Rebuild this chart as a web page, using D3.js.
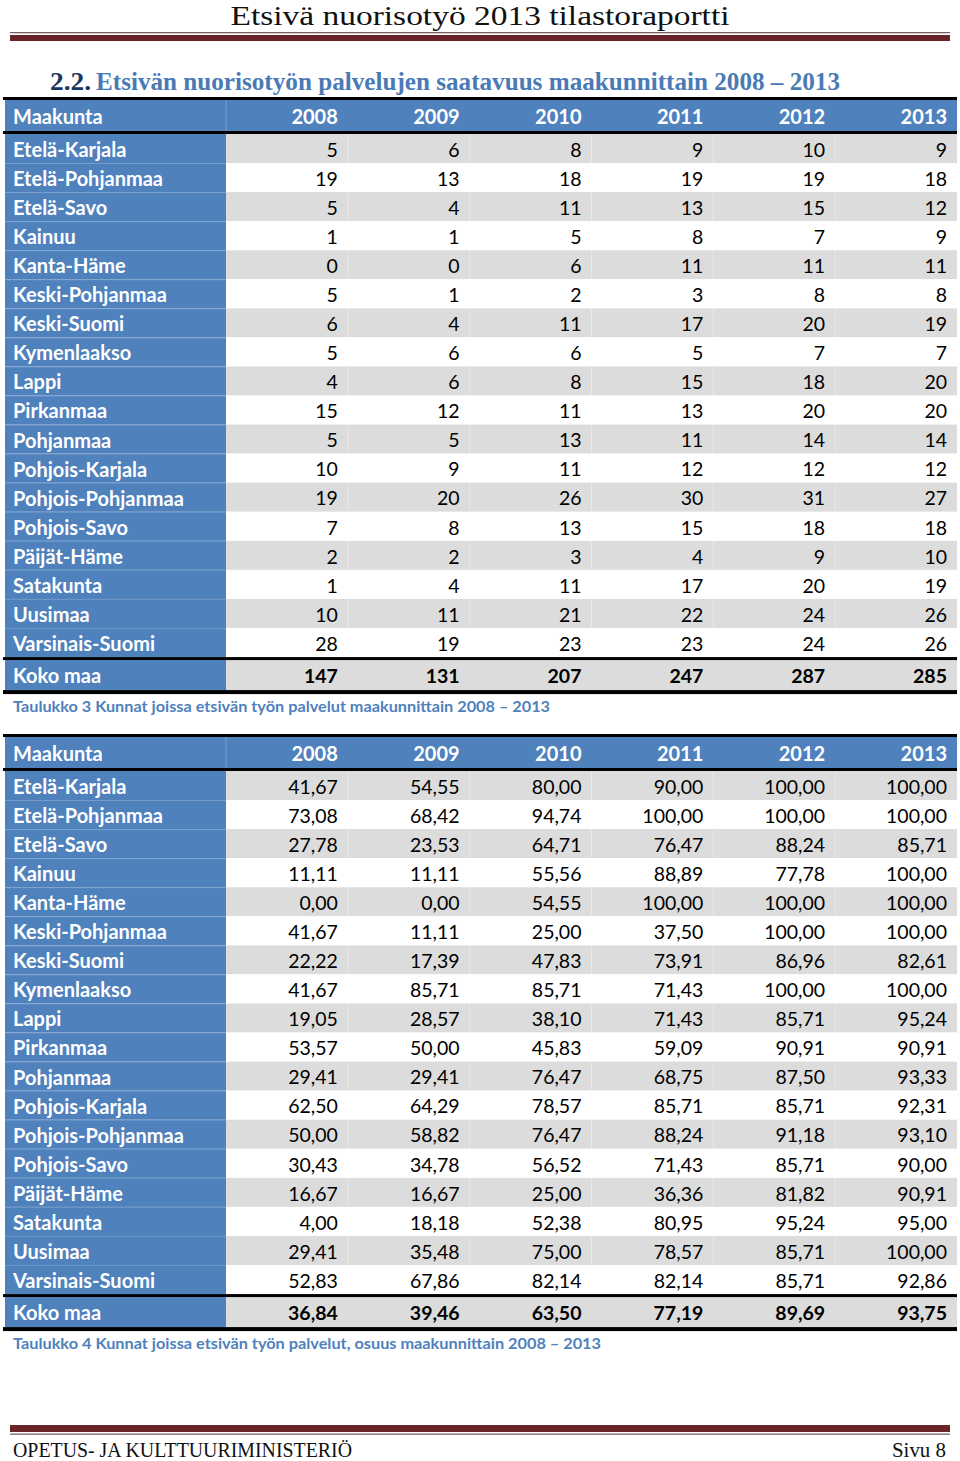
<!DOCTYPE html>
<html><head><meta charset="utf-8">
<script src="https://cdn.jsdelivr.net/npm/d3@7/dist/d3.min.js"></script>
<style>
html,body{margin:0;padding:0;background:#fff;}
svg{display:block;}
</style></head>
<body>
<script>
const pageTitle = "Etsivä nuorisotyö 2013 tilastoraportti";
const sectionNumber = "2.2.";
const sectionTitle = "Etsivän nuorisotyön palvelujen saatavuus maakunnittain 2008 – 2013";
const caption1 = "Taulukko 3 Kunnat joissa etsivän työn palvelut maakunnittain 2008 – 2013";
const caption2 = "Taulukko 4 Kunnat joissa etsivän työn palvelut, osuus maakunnittain 2008 – 2013";
const footerLeft = "OPETUS- JA KULTTUURIMINISTERIÖ";
const footerRight = "Sivu 8";
const headerLabel = "Maakunta";
const totalLabel = "Koko maa";

const years = ["2008","2009","2010","2011","2012","2013"];
const regions = ["Etelä-Karjala","Etelä-Pohjanmaa","Etelä-Savo","Kainuu","Kanta-Häme","Keski-Pohjanmaa","Keski-Suomi","Kymenlaakso","Lappi","Pirkanmaa","Pohjanmaa","Pohjois-Karjala","Pohjois-Pohjanmaa","Pohjois-Savo","Päijät-Häme","Satakunta","Uusimaa","Varsinais-Suomi"];

const counts = [
  [5,6,8,9,10,9],
  [19,13,18,19,19,18],
  [5,4,11,13,15,12],
  [1,1,5,8,7,9],
  [0,0,6,11,11,11],
  [5,1,2,3,8,8],
  [6,4,11,17,20,19],
  [5,6,6,5,7,7],
  [4,6,8,15,18,20],
  [15,12,11,13,20,20],
  [5,5,13,11,14,14],
  [10,9,11,12,12,12],
  [19,20,26,30,31,27],
  [7,8,13,15,18,18],
  [2,2,3,4,9,10],
  [1,4,11,17,20,19],
  [10,11,21,22,24,26],
  [28,19,23,23,24,26]
];
const countsTotal = [147,131,207,247,287,285];

const shares = [
  [41.67,54.55,80.00,90.00,100.00,100.00],
  [73.08,68.42,94.74,100.00,100.00,100.00],
  [27.78,23.53,64.71,76.47,88.24,85.71],
  [11.11,11.11,55.56,88.89,77.78,100.00],
  [0.00,0.00,54.55,100.00,100.00,100.00],
  [41.67,11.11,25.00,37.50,100.00,100.00],
  [22.22,17.39,47.83,73.91,86.96,82.61],
  [41.67,85.71,85.71,71.43,100.00,100.00],
  [19.05,28.57,38.10,71.43,85.71,95.24],
  [53.57,50.00,45.83,59.09,90.91,90.91],
  [29.41,29.41,76.47,68.75,87.50,93.33],
  [62.50,64.29,78.57,85.71,85.71,92.31],
  [50.00,58.82,76.47,88.24,91.18,93.10],
  [30.43,34.78,56.52,71.43,85.71,90.00],
  [16.67,16.67,25.00,36.36,81.82,90.91],
  [4.00,18.18,52.38,80.95,95.24,95.00],
  [29.41,35.48,75.00,78.57,85.71,100.00],
  [52.83,67.86,82.14,82.14,85.71,92.86]
];
const sharesTotal = [36.84,39.46,63.50,77.19,89.69,93.75];

const W = 960, H = 1461;
const svg = d3.select("body").append("svg").attr("width", W).attr("height", H);

const BLUE = "#4f81bd", GRAY = "#dcdcdc", RED = "#6a2327";
const sansFont = "Lato, 'Open Sans', sans-serif";
const serifFont = "'Liberation Serif', 'DejaVu Serif', serif";

// page header
svg.append("text").attr("x", 480).attr("y", 25).attr("text-anchor","middle")
  .attr("font-family", serifFont).attr("font-size", 28).attr("fill","#111")
  .attr("textLength", 499).attr("lengthAdjust","spacingAndGlyphs").text(pageTitle);
svg.append("rect").attr("x",10).attr("y",32).attr("width",940).attr("height",1.3).attr("fill","#7a6262");
svg.append("rect").attr("x",10).attr("y",35).attr("width",940).attr("height",6).attr("fill",RED);

// section heading
svg.append("text").attr("x", 50).attr("y", 90)
  .attr("font-family", serifFont).attr("font-weight","bold").attr("font-size", 26).attr("fill","#17365d")
  .attr("textLength", 41).attr("lengthAdjust","spacingAndGlyphs").text(sectionNumber);
svg.append("text").attr("x", 96).attr("y", 90)
  .attr("font-family", serifFont).attr("font-weight","bold").attr("font-size", 26).attr("fill","#4a7ab5")
  .attr("textLength", 744).attr("lengthAdjust","spacingAndGlyphs").text(sectionTitle);

const fmtComma = d3.formatLocale({decimal: ",", thousands: "\u00a0", grouping: [3], currency: ["", ""]}).format(".2f");

function drawTable(top, rows, totals, fmt, caption, captionLen) {
  const g = svg.append("g");
  const left = 5, right = 957, labelRight = 226;
  const headerTop = top + 3, headerBottom = top + 34;
  const bodyTop = top + 37, rowH = 29.06;
  const bodyBottom = bodyTop + rowH * regions.length;
  const totalTop = bodyBottom + 3, totalBottom = totalTop + 30;
  const DY = "0.42em";

  const x = d3.scaleBand().domain(years).range([labelRight, right]);
  const y = d3.scaleBand().domain(regions).range([bodyTop, bodyBottom]);

  // header
  g.append("rect").attr("x", left).attr("y", headerTop).attr("width", right-left).attr("height", headerBottom-headerTop).attr("fill", BLUE);
  g.append("line").attr("x1", labelRight).attr("x2", labelRight).attr("y1", headerTop).attr("y2", headerBottom)
    .attr("stroke","#fff").attr("stroke-opacity",0.25);
  g.append("text").attr("x", 13).attr("y", (headerTop+headerBottom)/2).attr("dy",DY)
    .attr("font-family", sansFont).attr("font-weight","bold").attr("font-size",20).attr("fill","#fff").text(headerLabel);
  g.selectAll("text.yr").data(years).join("text").attr("class","yr")
    .attr("x", d => x(d) + x.bandwidth() - 10).attr("y", (headerTop+headerBottom)/2).attr("dy",DY)
    .attr("text-anchor","end").attr("font-family", sansFont).attr("font-weight","bold").attr("font-size",20)
    .attr("fill","#fff").text(d => d);

  // body rows
  const rg = g.selectAll("g.row").data(regions).join("g").attr("class","row");
  rg.append("rect").attr("x", labelRight).attr("y", d => y(d)).attr("width", right-labelRight).attr("height", y.bandwidth())
    .attr("fill", (d,i) => i % 2 === 0 ? GRAY : "#fff");
  rg.append("rect").attr("x", left).attr("y", d => y(d)).attr("width", labelRight-left).attr("height", y.bandwidth())
    .attr("fill", BLUE);
  rg.append("line").attr("x1", left).attr("x2", labelRight).attr("y1", d => y(d)+0.5).attr("y2", d => y(d)+0.5)
    .attr("stroke","#fff").attr("stroke-opacity", (d,i) => i === 0 ? 0 : 0.18);
  rg.append("text").attr("x", 13).attr("y", d => y(d) + y.bandwidth()/2).attr("dy",DY)
    .attr("font-family", sansFont).attr("font-weight","bold").attr("font-size",20).attr("fill","#fff").text(d => d);
  rg.each(function(d, i) {
    d3.select(this).selectAll("text.v").data(rows[i]).join("text").attr("class","v")
      .attr("x", (v,j) => x(years[j]) + x.bandwidth() - 10).attr("y", y(d) + y.bandwidth()/2).attr("dy",DY)
      .attr("text-anchor","end").attr("font-family", sansFont).attr("font-size",19.5).attr("fill","#000")
      .text(v => fmt(v));
  });
  // faint column dividers
  g.selectAll("line.cd").data(years.slice(1)).join("line").attr("class","cd")
    .attr("x1", d => x(d)).attr("x2", d => x(d)).attr("y1", bodyTop).attr("y2", totalBottom)
    .attr("stroke","#fff").attr("stroke-opacity",0.35);

  // total row
  g.append("rect").attr("x", labelRight).attr("y", totalTop).attr("width", right-labelRight).attr("height", totalBottom-totalTop).attr("fill", GRAY);
  g.append("rect").attr("x", left).attr("y", totalTop).attr("width", labelRight-left).attr("height", totalBottom-totalTop).attr("fill", BLUE);
  g.append("text").attr("x", 13).attr("y", (totalTop+totalBottom)/2).attr("dy",DY)
    .attr("font-family", sansFont).attr("font-weight","bold").attr("font-size",20).attr("fill","#fff").text(totalLabel);
  g.selectAll("text.tot").data(totals).join("text").attr("class","tot")
    .attr("x", (v,j) => x(years[j]) + x.bandwidth() - 10).attr("y", (totalTop+totalBottom)/2).attr("dy",DY)
    .attr("text-anchor","end").attr("font-family", sansFont).attr("font-weight","bold").attr("font-size",19.5).attr("fill","#000")
    .text(v => fmt(v));

  // black rules
  g.append("rect").attr("x", left-2).attr("y", top).attr("width", right-left+2).attr("height", 3).attr("fill","#000");
  g.append("rect").attr("x", left-2).attr("y", headerBottom).attr("width", right-left+2).attr("height", 3).attr("fill","#000");
  g.append("rect").attr("x", left-2).attr("y", bodyBottom).attr("width", right-left+2).attr("height", 3).attr("fill","#000");
  g.append("rect").attr("x", left-2).attr("y", totalBottom).attr("width", right-left+2).attr("height", 4).attr("fill","#000");

  // caption
  g.append("text").attr("x", 13).attr("y", totalBottom + 22)
    .attr("font-family", sansFont).attr("font-weight","bold").attr("font-size",16).attr("fill","#4f81bd")
    .attr("textLength", captionLen).attr("lengthAdjust","spacingAndGlyphs").text(caption);
}

drawTable(97, counts, countsTotal, d => String(d), caption1, 537);
drawTable(734, shares, sharesTotal, fmtComma, caption2, 588);

// footer
svg.append("rect").attr("x",10).attr("y",1425).attr("width",940).attr("height",7).attr("fill",RED);
svg.append("rect").attr("x",10).attr("y",1433.5).attr("width",940).attr("height",1.3).attr("fill","#7a6262");
svg.append("text").attr("x", 13).attr("y", 1457)
  .attr("font-family", serifFont).attr("font-size", 22).attr("fill","#111")
  .attr("textLength", 339).attr("lengthAdjust","spacingAndGlyphs").text(footerLeft);
svg.append("text").attr("x", 946).attr("y", 1457).attr("text-anchor","end")
  .attr("font-family", serifFont).attr("font-size", 22).attr("fill","#111")
  .attr("textLength", 54).attr("lengthAdjust","spacingAndGlyphs").text(footerRight);
</script>
</body></html>
